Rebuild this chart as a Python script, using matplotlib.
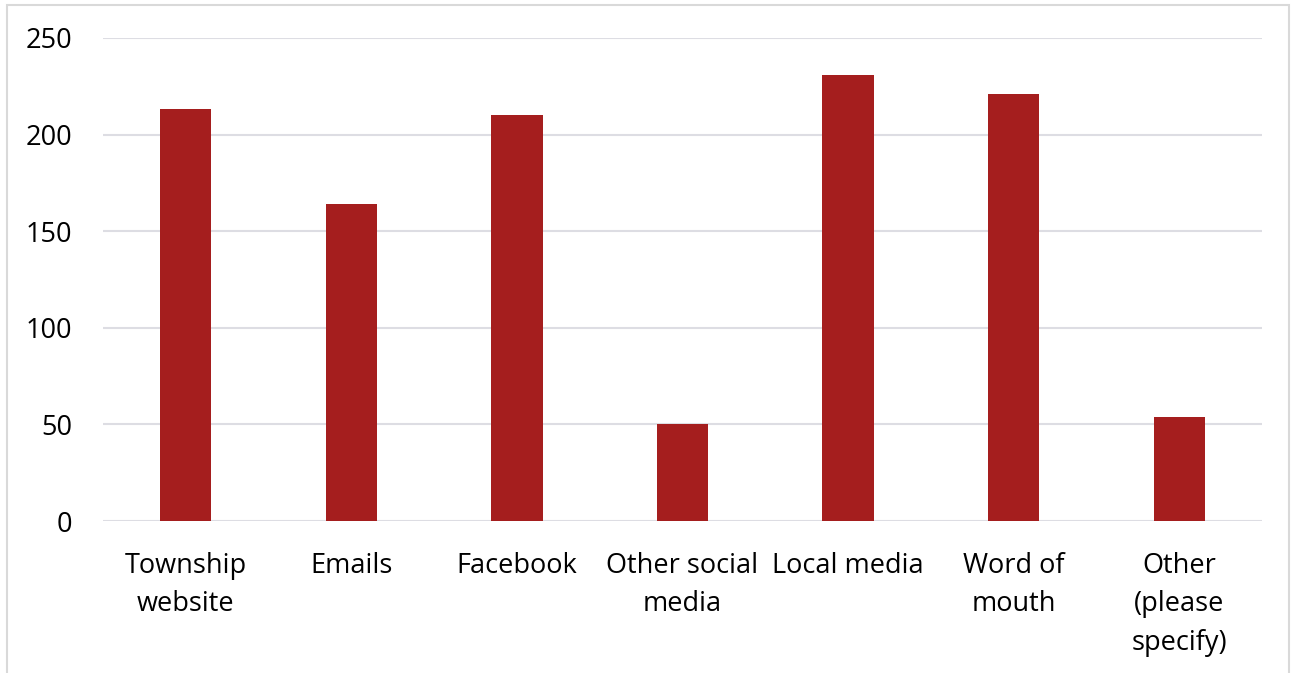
import matplotlib.pyplot as plt
from matplotlib.patches import Rectangle

categories = ["Township\nwebsite", "Emails", "Facebook", "Other social\nmedia",
              "Local media", "Word of\nmouth", "Other\n(please\nspecify)"]
counts = [213, 164, 210, 50, 231, 221, 54]
yticks = [0, 50, 100, 150, 200, 250]

plt.rcParams['font.family'] = ['Open Sans', 'DejaVu Sans']

W, H = 1291, 673
fig = plt.figure(figsize=(W / 100, H / 100), dpi=100)
ax = fig.add_axes([103 / W, 1 - 521 / H, (1262 - 103) / W, (521 - 38) / H])

x = range(len(categories))
ax.bar(x, counts, width=0.31, color="#A51E1E", zorder=3)

ax.set_xlim(-0.5, len(categories) - 0.5)
ax.set_ylim(0, 250)
ax.set_yticks(yticks)
ax.set_xticks(list(x))
ax.set_xticklabels(categories, fontsize=19.5, linespacing=1.5)
ax.tick_params(axis='y', labelsize=19.5, length=0, pad=22)
ax.tick_params(axis='x', length=0, pad=22)
ax.grid(axis='y', color="#DDDDE3", linewidth=1.5, zorder=0)
for s in ax.spines.values():
    s.set_visible(False)

# chart frame
fig.patches.append(Rectangle((7 / W, -0.01), (1289 - 7) / W, 1 - 5 / H + 0.01,
                             transform=fig.transFigure, fill=False,
                             edgecolor="#D9D9D9", linewidth=1.5))

fig.savefig("out.png", dpi=100)
